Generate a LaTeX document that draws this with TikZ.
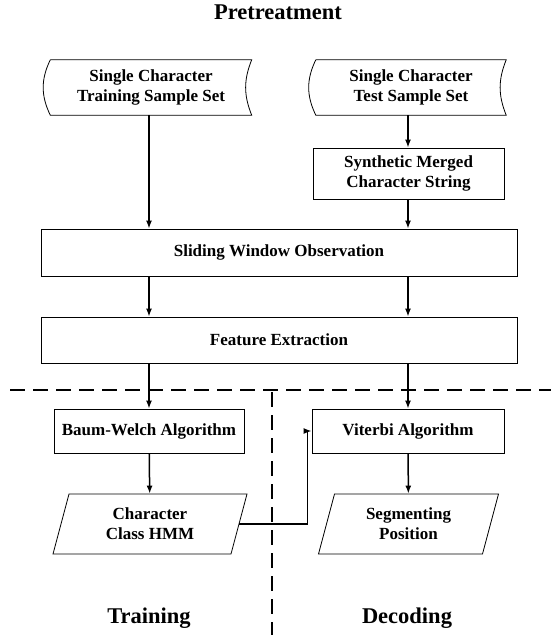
\documentclass[tikz,border=0pt]{standalone}
\usepackage{fontspec}
\setmainfont{Liberation Serif}
\usetikzlibrary{shapes.geometric}
\usetikzlibrary{arrows.meta}

\tikzset{
  box/.style={draw, line width=0.8pt, align=center, inner sep=0pt,
    font=\fontsize{17}{20}\selectfont\bfseries},
  store/.style={align=center, inner sep=0pt, minimum height=55,
    font=\fontsize{17}{20}\selectfont\bfseries},
  result/.style={box, trapezium, trapezium left angle=63.4,
    trapezium right angle=116.6, trapezium stretches body, minimum height=60},
  flow/.style={line width=1.5pt, -{Latex[length=8pt,width=6pt]}},
  part/.style={line width=1.8pt, dash pattern=on 15pt off 8pt},
  caption/.style={font=\fontsize{22.5}{27}\selectfont\bfseries}
}

\begin{document}
\begin{tikzpicture}[x=1pt,y=-1pt]
\useasboundingbox (0,0) rectangle (551,635);

\node [caption, anchor=base] (pre) at (278,19) {Pretreatment};

% sample sets
\node [store, minimum width=201] (train) at (151,87.5) {Single Character\\Training Sample Set};
\node [store, minimum width=190] (test) at (411,87.5) {Single Character\\Test Sample Set};
\draw [line width=0.8pt] (train.north west) -- (train.north east) to[bend right=22] (train.south east)
  -- (train.south west) to[bend left=26] (train.north west);
\draw [line width=0.8pt] (test.north west) -- (test.north east) to[bend right=22] (test.south east)
  -- (test.south west) to[bend left=26] (test.north west);

\node [box, minimum width=191, minimum height=51] (merge) at (408.5,173.5) {Synthetic Merged\\Character String};
\node [box, minimum width=476, minimum height=47] (slide) at (279,252.5) {Sliding Window Observation};
\node [box, minimum width=476, minimum height=46] (feat) at (279,340) {Feature Extraction};

% training / decoding
\node [box, minimum width=190, minimum height=44] (baum) at (149,431) {Baum-Welch Algorithm};
\node [box, minimum width=192, minimum height=44] (vit) at (408,431) {Viterbi Algorithm};
\node [result, minimum width=194] (hmm) at (150,524) {Character\\Class HMM};
\node [result, minimum width=180] (seg) at (408.5,524) {Segmenting\\Position};

\draw [flow] (train.south -| baum) -- (slide.north -| baum);
\draw [flow] (test.south -| vit) -- (merge.north -| vit);
\draw [flow] (merge.south -| vit) -- (slide.north -| vit);
\draw [flow] (slide.south -| baum) -- (feat.north -| baum);
\draw [flow] (slide.south -| vit) -- (feat.north -| vit);
\draw [flow] (feat.south -| baum) -- (baum.north);
\draw [flow] (feat.south -| vit) -- (vit.north);
\draw [flow] (baum) -- (hmm);
\draw [flow] (vit) -- (seg);
\draw [flow] (hmm.east) -- ++(68,0) |- (vit.west);

% dividing lines
\draw [part] (10,390) -- (551,390);
\draw [part] (272,392) -- (272,635);

\node [caption, anchor=base] (train-lbl) at (149,623) {Training};
\node [caption, anchor=base] (dec-lbl) at (407,623) {Decoding};
\end{tikzpicture}
\end{document}
